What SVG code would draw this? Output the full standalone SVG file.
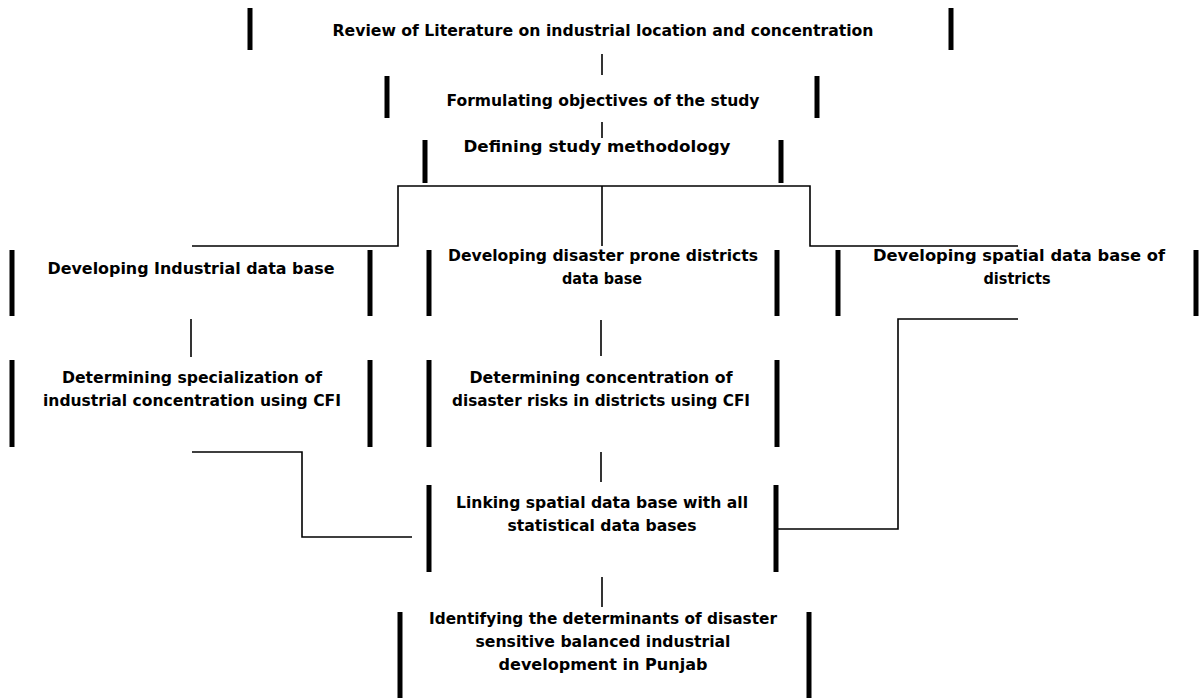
<svg xmlns="http://www.w3.org/2000/svg" width="1202" height="698" viewBox="0 0 1202 698">
<style>
.bar{stroke:#000;stroke-width:5;fill:none}
.ln{stroke:#000;stroke-width:1.6;fill:none}
text{font-family:"DejaVu Sans","Liberation Sans",sans-serif;font-weight:bold;font-size:15.5px;fill:#000;text-anchor:middle}
</style>
<rect width="1202" height="698" fill="#fff"/>
<g id="connectors">
<line class="ln" x1="602" y1="54" x2="602" y2="75"/>
<line class="ln" x1="602" y1="122" x2="602" y2="138"/>
<polyline class="ln" points="192,246 398,246 398,186 810,186 810,246 1018,246"/>
<line class="ln" x1="602" y1="186" x2="602" y2="246"/>
<line class="ln" x1="191" y1="319" x2="191" y2="357"/>
<line class="ln" x1="601" y1="320" x2="601" y2="356"/>
<polyline class="ln" points="192,452 302,452 302,537 412,537"/>
<line class="ln" x1="601" y1="452" x2="601" y2="482"/>
<polyline class="ln" points="777,529 898,529 898,319 1018,319"/>
<line class="ln" x1="602" y1="577" x2="602" y2="607"/>
</g>
<g id="n1">
<line class="bar" x1="250" y1="8" x2="250" y2="50"/><line class="bar" x1="951" y1="8" x2="951" y2="50"/>
<text x="603" y="36" textLength="541" lengthAdjust="spacingAndGlyphs">Review of Literature on industrial location and concentration</text>
</g>
<g id="n2">
<line class="bar" x1="387" y1="76" x2="387" y2="118"/><line class="bar" x1="817" y1="76" x2="817" y2="118"/>
<text x="603" y="106" textLength="313" lengthAdjust="spacingAndGlyphs">Formulating objectives of the study</text>
</g>
<g id="n3">
<line class="bar" x1="425" y1="140" x2="425" y2="183"/><line class="bar" x1="781" y1="140" x2="781" y2="183"/>
<text x="597" y="152" textLength="267" lengthAdjust="spacingAndGlyphs">Defining study methodology</text>
</g>
<g id="n4">
<line class="bar" x1="12" y1="250" x2="12" y2="316"/><line class="bar" x1="370" y1="250" x2="370" y2="316"/>
<text x="191" y="274" textLength="287" lengthAdjust="spacingAndGlyphs">Developing Industrial data base</text>
</g>
<g id="n5">
<line class="bar" x1="429" y1="250" x2="429" y2="316"/><line class="bar" x1="777" y1="250" x2="777" y2="316"/>
<text x="603" y="261" textLength="310" lengthAdjust="spacingAndGlyphs">Developing disaster prone districts</text>
<text x="602" y="284" textLength="80" lengthAdjust="spacingAndGlyphs">data base</text>
</g>
<g id="n6">
<line class="bar" x1="838" y1="250" x2="838" y2="316"/><line class="bar" x1="1196" y1="250" x2="1196" y2="316"/>
<text x="1019" y="261" textLength="292" lengthAdjust="spacingAndGlyphs">Developing spatial data base of</text>
<text x="1017" y="284" textLength="67" lengthAdjust="spacingAndGlyphs">districts</text>
</g>
<g id="n7">
<line class="bar" x1="12" y1="360" x2="12" y2="447"/><line class="bar" x1="370" y1="360" x2="370" y2="447"/>
<text x="192" y="383" textLength="260" lengthAdjust="spacingAndGlyphs">Determining specialization of</text>
<text x="192" y="406" textLength="298" lengthAdjust="spacingAndGlyphs">industrial concentration using CFI</text>
</g>
<g id="n8">
<line class="bar" x1="429" y1="360" x2="429" y2="447"/><line class="bar" x1="777" y1="360" x2="777" y2="447"/>
<text x="601" y="383" textLength="263" lengthAdjust="spacingAndGlyphs">Determining concentration of</text>
<text x="601" y="406" textLength="298" lengthAdjust="spacingAndGlyphs">disaster risks in districts using CFI</text>
</g>
<g id="n9">
<line class="bar" x1="429" y1="485" x2="429" y2="572"/><line class="bar" x1="776" y1="485" x2="776" y2="572"/>
<text x="602" y="508" textLength="292" lengthAdjust="spacingAndGlyphs">Linking spatial data base with all</text>
<text x="602" y="531" textLength="189" lengthAdjust="spacingAndGlyphs">statistical data bases</text>
</g>
<g id="n10">
<line class="bar" x1="400" y1="612" x2="400" y2="698"/><line class="bar" x1="809" y1="612" x2="809" y2="698"/>
<text x="603" y="624" textLength="348" lengthAdjust="spacingAndGlyphs">Identifying the determinants of disaster</text>
<text x="603" y="647" textLength="255" lengthAdjust="spacingAndGlyphs">sensitive balanced industrial</text>
<text x="603" y="670" textLength="209" lengthAdjust="spacingAndGlyphs">development in Punjab</text>
</g>
</svg>
